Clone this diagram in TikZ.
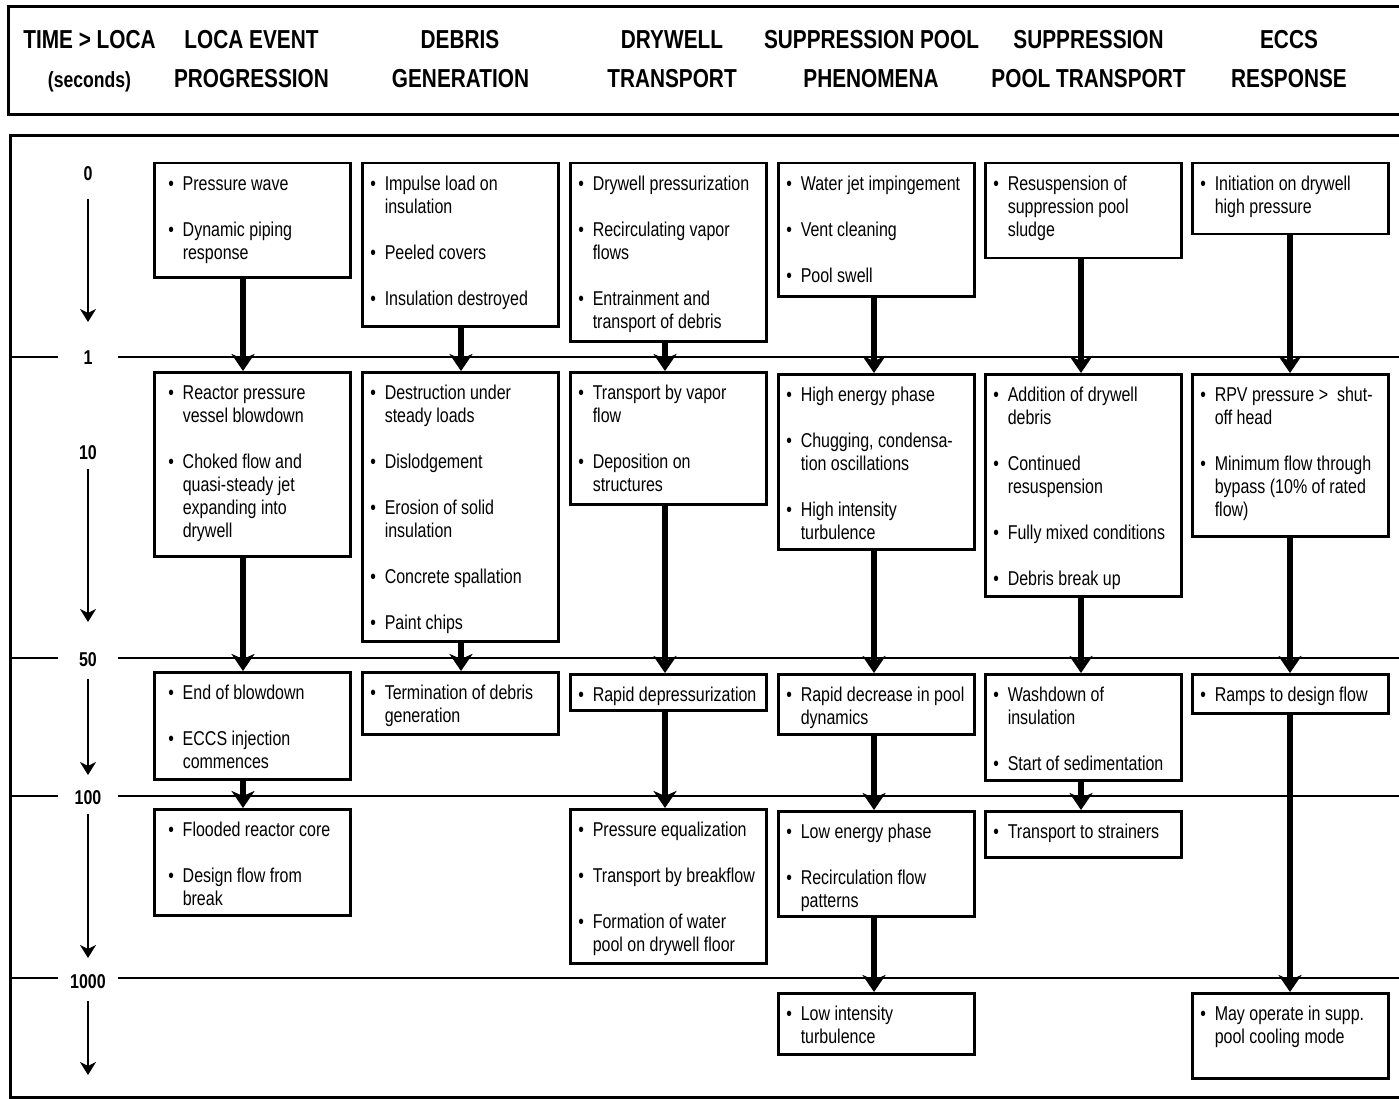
\documentclass[tikz,border=0pt]{standalone}
\usepackage{fontspec}
\setmainfont{Liberation Sans}[FakeStretch=0.8]
\usetikzlibrary{arrows.meta}
\newlength\itmind
\setlength\itmind{22.5pt}
\newcommand\itm[1]{\par\noindent\hangindent=\itmind\hangafter=1\hbox to \itmind{\hspace{8pt}\textbullet\hss}\strut#1\par}
\newcommand\isep{\vspace{23pt}}
\newcommand\bxt[3][0pt]{\parbox[c][#2][t]{196pt}{\fontsize{20}{23}\selectfont\rightskip=0pt plus 1fil\relax\leftskip=#1\relax\vspace*{11.5pt}#3}}
\begin{document}
\begin{tikzpicture}[x=1pt,y=-1pt,
  frame/.style={line width=3pt},
  tline/.style={line width=2pt},
  hd/.style={font=\fontsize{26}{30}\selectfont\bfseries, inner sep=0pt, anchor=base},
  tlab/.style={font=\fontsize{20}{24}\selectfont\bfseries, fill=white, minimum width=60pt, inner sep=1pt},
  tarrow/.style={line width=1.8pt, -{Stealth[length=13pt,width=16pt,inset=4pt]}},
  bx/.style={draw, line width=2.5pt, fill=white, inner sep=0pt, anchor=north west},
  flow/.style={line width=5.3pt, -{Stealth[length=17pt,width=23pt,inset=5pt]}}]
\useasboundingbox (0,0) rectangle (1399,1099);
% frames
\draw[frame] (1399,7) -- (8,7) -- (8,115) -- (1399,115);
\draw[frame] (1399,136) -- (10,136) -- (10,1097) -- (1399,1097);
% header
\node[hd] (h0a) at (89.5,49) {TIME > LOCA};
\node[hd, font=\fontsize{22}{26}\selectfont\bfseries] (h0b) at (89.5,88) {(seconds)};
\node[hd] (h1a) at (251.5,49) {LOCA EVENT};
\node[hd] (h1b) at (251.5,88) {PROGRESSION};
\node[hd] (h2a) at (460,49) {DEBRIS};
\node[hd] (h2b) at (460.5,88) {GENERATION};
\node[hd] (h3a) at (672,49) {DRYWELL};
\node[hd] (h3b) at (672,88) {TRANSPORT};
\node[hd] (h4a) at (871.5,49) {SUPPRESSION POOL};
\node[hd] (h4b) at (871,88) {PHENOMENA};
\node[hd] (h5a) at (1088.5,49) {SUPPRESSION};
\node[hd] (h5b) at (1088.5,88) {POOL TRANSPORT};
\node[hd] (h6a) at (1289,49) {ECCS};
\node[hd] (h6b) at (1289,88) {RESPONSE};
% time lines
\draw[tline] (10,357) -- (1399,357);
\draw[tline] (10,658) -- (1399,658);
\draw[tline] (10,796) -- (1399,796);
\draw[tline] (10,978) -- (1399,978);
% time labels
\node[tlab] (t0) at (88,174) {0};
\node[tlab] (t1) at (88,358) {1};
\node[tlab] (t10) at (88,453) {10};
\node[tlab] (t50) at (88,660) {50};
\node[tlab] (t100) at (88,798) {100};
\node[tlab] (t1000) at (88,982) {1000};
\coordinate (e0) at (88,322);
\coordinate (e10) at (88,622);
\coordinate (e50) at (88,775);
\coordinate (e100) at (88,958);
\coordinate (e1000) at (88,1075);
\draw[tarrow, shorten <=17pt] (t0) -- (e0);
\draw[tarrow, shorten <=8pt] (t10) -- (e10);
\draw[tarrow, shorten <=11pt] (t50) -- (e50);
\draw[tarrow, shorten <=8pt] (t100) -- (e100);
\draw[tarrow, shorten <=11pt] (t1000) -- (e1000);
% row 0
\node[bx] (a0) at (153,162) {\bxt[6pt]{114pt}{\itm{Pressure wave}\isep\itm{Dynamic piping\\response}}};
\node[bx] (b0) at (361,162) {\bxt{163pt}{\itm{Impulse load on\\insulation}\isep\itm{Peeled covers}\isep\itm{Insulation destroyed}}};
\node[bx] (c0) at (569,162) {\bxt{178pt}{\itm{Drywell pressurization}\isep\itm{Recirculating vapor\\flows}\isep\itm{Entrainment and\\transport of debris}}};
\node[bx] (d0) at (777,162) {\bxt{133pt}{\itm{Water jet impingement}\isep\itm{Vent cleaning}\isep\itm{Pool swell}}};
\node[bx] (e0b) at (984,162) {\bxt{95pt}{\itm{Resuspension of\\suppression pool\\sludge}}};
\node[bx] (f0) at (1191,162) {\bxt{71pt}{\itm{Initiation on drywell\\high pressure}}};
% row 1
\node[bx] (a1) at (153,371) {\bxt[6pt]{184pt}{\itm{Reactor pressure\\vessel blowdown}\isep\itm{Choked flow and\\quasi-steady jet\\expanding into\\drywell}}};
\node[bx] (b1) at (361,371) {\bxt{269pt}{\itm{Destruction under\\steady loads}\isep\itm{Dislodgement}\isep\itm{Erosion of solid\\insulation}\isep\itm{Concrete spallation}\isep\itm{Paint chips}}};
\node[bx] (c1) at (569,371) {\bxt{132pt}{\itm{Transport by vapor\\flow}\isep\itm{Deposition on\\structures}}};
\node[bx] (d1) at (777,373) {\bxt{175pt}{\itm{High energy phase}\isep\itm{Chugging, condensa-\\tion oscillations}\isep\itm{High intensity\\turbulence}}};
\node[bx] (e1) at (984,373) {\bxt{222pt}{\itm{Addition of drywell\\debris}\isep\itm{Continued\\resuspension}\isep\itm{Fully mixed conditions}\isep\itm{Debris break up}}};
\node[bx] (f1) at (1191,373) {\bxt{162pt}{\itm{RPV pressure >\ \ shut-\\off head}\isep\itm{Minimum flow through\\bypass (10\% of rated\\flow)}}};
% row 2
\node[bx] (a2) at (153,671) {\bxt[6pt]{107pt}{\itm{End of blowdown}\isep\itm{ECCS injection\\commences}}};
\node[bx] (b2) at (361,671) {\bxt{62pt}{\itm{Termination of debris\\generation}}};
\node[bx] (c2) at (569,673) {\bxt{36pt}{\itm{Rapid depressurization}}};
\node[bx] (d2) at (777,673) {\bxt{60pt}{\itm{Rapid decrease in pool\\dynamics}}};
\node[bx] (e2) at (984,673) {\bxt{106pt}{\itm{Washdown of\\insulation}\isep\itm{Start of sedimentation}}};
\node[bx] (f2) at (1191,673) {\bxt{39pt}{\itm{Ramps to design flow}}};
% row 3
\node[bx] (a3) at (153,808) {\bxt[6pt]{106pt}{\itm{Flooded reactor core}\isep\itm{Design flow from\\break}}};
\node[bx] (c3) at (569,808) {\bxt{154pt}{\itm{Pressure equalization}\isep\itm{Transport by breakflow}\isep\itm{Formation of water\\pool on drywell floor}}};
\node[bx] (d3) at (777,810) {\bxt{105pt}{\itm{Low energy phase}\isep\itm{Recirculation flow\\patterns}}};
\node[bx] (e3) at (984,810) {\bxt{46pt}{\itm{Transport to strainers}}};
% row 4
\node[bx] (d4) at (777,992) {\bxt{61pt}{\itm{Low intensity\\turbulence}}};
\node[bx] (f4) at (1191,992) {\bxt{85pt}{\itm{May operate in supp.\\pool cooling mode}}};
% arrow columns
\coordinate (xa) at (243,0);
\coordinate (xb) at (461,0);
\coordinate (xc) at (665,0);
\coordinate (xd) at (874,0);
\coordinate (xe) at (1081,0);
\coordinate (xf) at (1290,0);
\draw[flow] (a0.south -| xa) -- (a1.north -| xa);
\draw[flow] (a1.south -| xa) -- (a2.north -| xa);
\draw[flow] (a2.south -| xa) -- (a3.north -| xa);
\draw[flow] (b0.south -| xb) -- (b1.north -| xb);
\draw[flow] (b1.south -| xb) -- (b2.north -| xb);
\draw[flow] (c0.south -| xc) -- (c1.north -| xc);
\draw[flow] (c1.south -| xc) -- (c2.north -| xc);
\draw[flow] (c2.south -| xc) -- (c3.north -| xc);
\draw[flow] (d0.south -| xd) -- (d1.north -| xd);
\draw[flow] (d1.south -| xd) -- (d2.north -| xd);
\draw[flow] (d2.south -| xd) -- (d3.north -| xd);
\draw[flow] (d3.south -| xd) -- (d4.north -| xd);
\draw[flow] (e0b.south -| xe) -- (e1.north -| xe);
\draw[flow] (e1.south -| xe) -- (e2.north -| xe);
\draw[flow] (e2.south -| xe) -- (e3.north -| xe);
\draw[flow] (f0.south -| xf) -- (f1.north -| xf);
\draw[flow] (f1.south -| xf) -- (f2.north -| xf);
\draw[flow] (f2.south -| xf) -- (f4.north -| xf);
\end{tikzpicture}
\end{document}
